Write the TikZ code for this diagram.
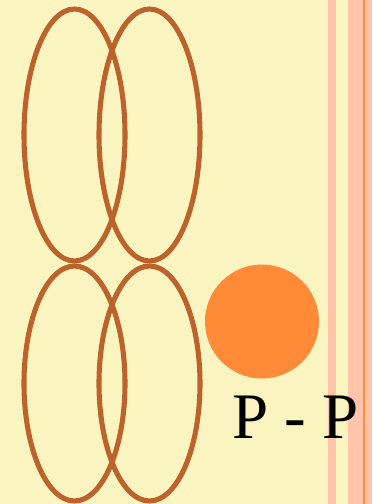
\documentclass[tikz,border=0pt]{standalone}
\usepackage{fontspec}
\setmainfont{Liberation Serif}
\usepackage{tikz}
\usetikzlibrary{positioning}
\definecolor{PaperYellow}{RGB}{250,244,192}
\definecolor{StripePink}{RGB}{255,196,170}
\definecolor{LineOrange}{RGB}{255,138,56}
\definecolor{RingBrown}{RGB}{188,98,42}
\tikzset{ring/.style={draw=RingBrown,line width=3.8pt}}

\begin{document}
\begin{tikzpicture}[x=0.75pt,y=-0.75pt]
	\useasboundingbox (0,0) rectangle (372,504);
	\fill[PaperYellow] (0,0) rectangle (372,504);
	% stripes on the right
	\fill[StripePink] (328,0) rectangle (336,504);
	\fill[StripePink] (348,0) rectangle (372,504);
	\fill[LineOrange] (363,0) rectangle (365,504);
	% upper pair
	\draw[ring] (74.5,135) ellipse (50.5 and 126);
	\draw[ring] (149.5,135) ellipse (50.5 and 126);
	% lower pair
	\draw[ring] (74.5,383.5) ellipse (50.5 and 117.5);
	\draw[ring] (149.5,383.5) ellipse (50.5 and 117.5);
	\node[circle,fill=LineOrange,minimum size=114*0.75pt,inner sep=0pt] (dot) at (262,321.5) {};
	\node[font=\fontsize{48.7pt}{50pt}\selectfont,inner sep=0pt,anchor=base] (pp) at (295.5,438) {P - P};
\end{tikzpicture}
\end{document}
